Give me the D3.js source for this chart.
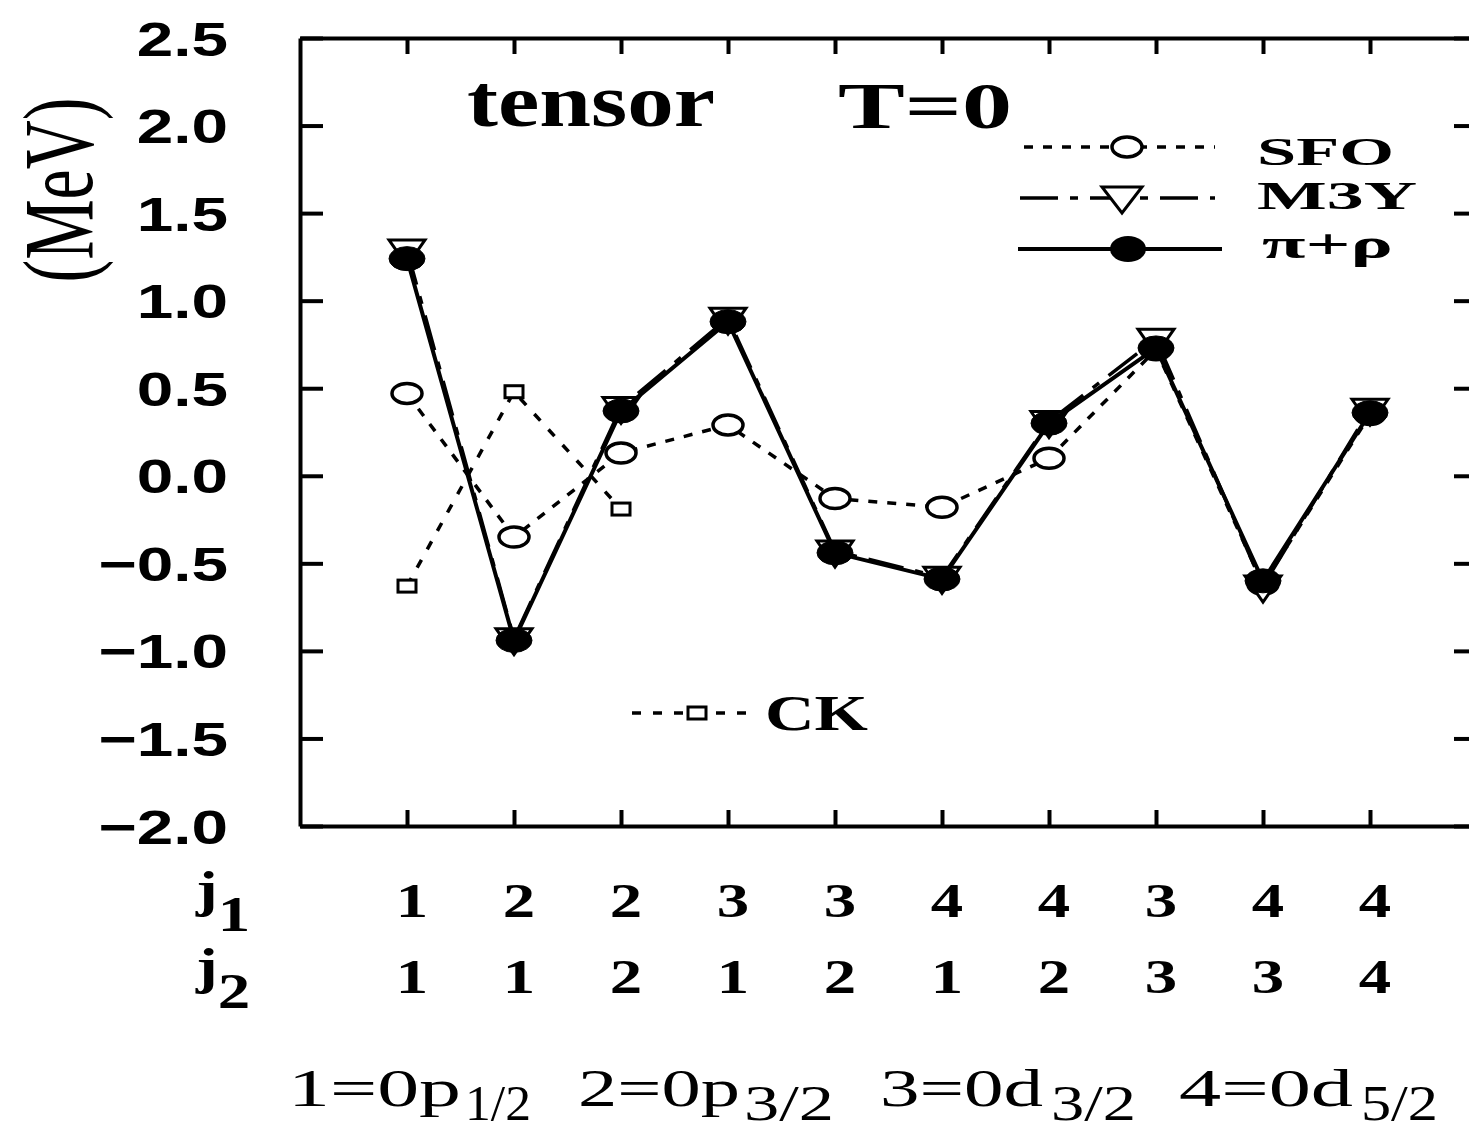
<!DOCTYPE html>
<html>
<head>
<meta charset="utf-8">
<script src="https://cdn.jsdelivr.net/npm/d3@7"></script>
<style>
  body { margin: 0; background: #fff; }
  svg { display: block; }
</style>
</head>
<body>
<svg id="chart" width="1469" height="1132"></svg>
<script>
// orbital pair index (j1, j2) along the horizontal axis
const pairIndex = [1, 2, 3, 4, 5, 6, 7, 8, 9, 10];
const j1Labels = ["1", "2", "2", "3", "3", "4", "4", "3", "4", "4"];
const j2Labels = ["1", "1", "2", "1", "2", "1", "2", "3", "3", "4"];

// tensor T=0 matrix elements (MeV)
const sfoValues   = [0.47, -0.35, 0.13, 0.29, -0.13, -0.18, 0.10, 0.72, -0.62, 0.35];
const m3yValues   = [1.29, -0.93, 0.39, 0.90, -0.43, -0.58, 0.31, 0.78, -0.63, 0.38];
const piRhoValues = [1.24, -0.94, 0.37, 0.88, -0.44, -0.59, 0.30, 0.73, -0.60, 0.36];
const ckIndex     = [1, 2, 3];
const ckValues    = [-0.63, 0.48, -0.19];

const yTickValues = [-2.0, -1.5, -1.0, -0.5, 0.0, 0.5, 1.0, 1.5, 2.0, 2.5];
const orbitalKey = [
  { main: "1=0p", sub: "1/2" },
  { main: "2=0p", sub: "3/2" },
  { main: "3=0d", sub: "3/2" },
  { main: "4=0d", sub: "5/2" }
];

const svg = d3.select("#chart");
const SERIF = "'Liberation Serif', 'Times New Roman', serif";
const SANS = "'Liberation Sans', Arial, sans-serif";

const plot = { left: 300, right: 1477, top: 38, bottom: 826 };
const x = d3.scaleLinear().domain([0, 11]).range([plot.left, plot.right]);
const y = d3.scaleLinear().domain([-2.0, 2.5]).range([plot.bottom, plot.top]);

// ---- frame and ticks (all ticks point inward) ----
function styleAxis(g) {
  g.select(".domain").attr("stroke", "#000").attr("stroke-width", 4);
  g.selectAll(".tick line").attr("stroke", "#000").attr("stroke-width", 4);
}

const leftAxis = svg.append("g")
  .attr("transform", `translate(${plot.left},0)`)
  .call(d3.axisLeft(y).tickValues(yTickValues).tickSizeInner(-23).tickSizeOuter(0)
    .tickFormat(d3.format(".1f")))
  .call(styleAxis);
leftAxis.selectAll(".tick text")
  .attr("x", null).attr("dy", null)
  .attr("transform", "translate(-72,17) scale(1.34,1)")
  .attr("font-family", SANS).attr("font-weight", "bold").attr("font-size", 49)
  .attr("text-anchor", "end").attr("fill", "#000");

svg.append("g")
  .attr("transform", `translate(${plot.right},0)`)
  .call(d3.axisRight(y).tickValues(yTickValues).tickSizeInner(-23).tickSizeOuter(0).tickFormat(""))
  .call(styleAxis);

svg.append("g")
  .attr("transform", `translate(0,${plot.top})`)
  .call(d3.axisTop(x).tickValues(pairIndex).tickSizeInner(-16).tickSizeOuter(0).tickFormat(""))
  .call(styleAxis);

svg.append("g")
  .attr("transform", `translate(0,${plot.bottom})`)
  .call(d3.axisBottom(x).tickValues(pairIndex).tickSizeInner(-16).tickSizeOuter(0).tickFormat(""))
  .call(styleAxis);

// ---- series ----
const line = d3.line().x(d => x(d[0])).y(d => y(d[1]));
const pts = vals => vals.map((v, i) => [pairIndex[i], v]);

const ellipse = (g, data, rx, ry, fill, sw) =>
  g.selectAll(null).data(data).join("ellipse")
    .attr("cx", d => x(d[0])).attr("cy", d => y(d[1]))
    .attr("rx", rx).attr("ry", ry)
    .attr("fill", fill).attr("stroke", "#000").attr("stroke-width", sw);

const triPath = (w, up, down) => `M${-w / 2},${-up}L${w / 2},${-up}L0,${down}Z`;

// SFO: dotted line, open circles
const sfo = svg.append("g");
sfo.append("path").attr("d", line(pts(sfoValues)))
  .attr("fill", "none").attr("stroke", "#000").attr("stroke-width", 3.5)
  .attr("stroke-dasharray", "9,10");
ellipse(sfo, pts(sfoValues), 15, 10, "#fff", 3.5);

// CK: dashed line, open squares
const ckPts = ckValues.map((v, i) => [ckIndex[i], v]);
const ck = svg.append("g");
ck.append("path").attr("d", line(ckPts))
  .attr("fill", "none").attr("stroke", "#000").attr("stroke-width", 3.5)
  .attr("stroke-dasharray", "9,12");
ck.selectAll(null).data(ckPts).join("rect")
  .attr("x", d => x(d[0]) - 9).attr("y", d => y(d[1]) - 6)
  .attr("width", 18).attr("height", 12)
  .attr("fill", "#fff").attr("stroke", "#000").attr("stroke-width", 3);

// M3Y: dash-dot line, open down-triangles
const m3y = svg.append("g");
m3y.append("path").attr("d", line(pts(m3yValues)))
  .attr("fill", "none").attr("stroke", "#000").attr("stroke-width", 3.5)
  .attr("stroke-dasharray", "36,12,8,12");
m3y.selectAll(null).data(pts(m3yValues)).join("path")
  .attr("transform", d => `translate(${x(d[0])},${y(d[1])})`)
  .attr("d", triPath(36, 10, 16))
  .attr("fill", "#fff").attr("stroke", "#000").attr("stroke-width", 3);

// pi+rho: solid line, filled circles
const pr = svg.append("g");
pr.append("path").attr("d", line(pts(piRhoValues)))
  .attr("fill", "none").attr("stroke", "#000").attr("stroke-width", 4);
ellipse(pr, pts(piRhoValues), 18, 12, "#000", 1);

// ---- legend ----
const legend = svg.append("g");
function legendLine(x0, x1, yy, dash, sw) {
  legend.append("line").attr("x1", x0).attr("x2", x1).attr("y1", yy).attr("y2", yy)
    .attr("stroke", "#000").attr("stroke-width", sw)
    .attr("stroke-dasharray", dash);
}
function legendText(txt, tx, ty, size, len) {
  legend.append("text").attr("x", tx).attr("y", ty)
    .attr("font-family", SERIF).attr("font-weight", "bold").attr("font-size", size)
    .attr("textLength", len).attr("lengthAdjust", "spacingAndGlyphs")
    .text(txt);
}
// SFO
legendLine(1024, 1215, 147, "9,10", 3.5);
legend.append("ellipse").attr("cx", 1127).attr("cy", 147).attr("rx", 15).attr("ry", 10)
  .attr("fill", "#fff").attr("stroke", "#000").attr("stroke-width", 3.5);
legendText("SFO", 1257, 165, 40, 137);
// M3Y
legendLine(1020, 1215, 198, "38,12,8,12", 3.5);
legend.append("path").attr("transform", "translate(1122,197)").attr("d", triPath(40, 10, 16))
  .attr("fill", "#fff").attr("stroke", "#000").attr("stroke-width", 3);
legendText("M3Y", 1257, 209, 40, 160);
// pi+rho
legendLine(1018, 1222, 249, null, 4);
legend.append("ellipse").attr("cx", 1128).attr("cy", 249).attr("rx", 18).attr("ry", 13)
  .attr("fill", "#000");
legendText("\u03C0+\u03C1", 1262, 258, 42, 131);
// CK
legendLine(632, 746, 713, "9,12", 3.5);
legend.append("rect").attr("x", 688).attr("y", 707).attr("width", 18).attr("height", 12)
  .attr("fill", "#fff").attr("stroke", "#000").attr("stroke-width", 3);
legendText("CK", 765, 730, 50, 103);

// ---- titles ----
svg.append("text").attr("x", 467).attr("y", 126)
  .attr("font-family", SERIF).attr("font-weight", "bold").attr("font-size", 74)
  .attr("textLength", 248).attr("lengthAdjust", "spacingAndGlyphs").text("tensor");
svg.append("text").attr("x", 838).attr("y", 128)
  .attr("font-family", SERIF).attr("font-weight", "bold").attr("font-size", 66)
  .attr("textLength", 174).attr("lengthAdjust", "spacingAndGlyphs").text("T=0");

// y-axis unit label
svg.append("text")
  .attr("transform", "translate(92,190) rotate(-90)")
  .attr("text-anchor", "middle")
  .attr("font-family", SERIF).attr("font-size", 100)
  .attr("textLength", 185).attr("lengthAdjust", "spacingAndGlyphs")
  .text("(MeV)");

// ---- j1 / j2 rows under the axis ----
function jRow(labels, baseline) {
  svg.append("g").selectAll(null).data(labels).join("text")
    .attr("transform", (d, i) => `translate(${x(pairIndex[i]) + 5},${baseline}) scale(1.35,1)`)
    .attr("text-anchor", "middle")
    .attr("font-family", SERIF).attr("font-weight", "bold").attr("font-size", 48)
    .text(d => d);
}
jRow(j1Labels, 917);
jRow(j2Labels, 993);

function jName(sub, baseline) {
  const t = svg.append("text")
    .attr("transform", `translate(196,${baseline}) scale(1.3,1)`)
    .attr("font-family", SERIF).attr("font-weight", "bold").attr("font-size", 50);
  t.append("tspan").text("j");
  t.append("tspan").attr("dy", 25).text(sub);
}
jName("1", 906);
jName("2", 983);

// ---- orbital key: "n=0l" followed by the j subscript ----
const keyLayout = [
  { x: 288, w: 173, sx: 465, sw: 66 },
  { x: 578, w: 162, sx: 744, sw: 90 },
  { x: 880, w: 163, sx: 1051, sw: 85 },
  { x: 1179, w: 174, sx: 1361, sw: 77 }
];
orbitalKey.forEach((k, i) => {
  const L = keyLayout[i];
  svg.append("text").attr("x", L.x).attr("y", 1106)
    .attr("font-family", SERIF).attr("font-size", 53)
    .attr("textLength", L.w).attr("lengthAdjust", "spacingAndGlyphs")
    .text(k.main);
  svg.append("text").attr("x", L.sx).attr("y", 1120)
    .attr("font-family", SERIF).attr("font-size", 50)
    .attr("textLength", L.sw).attr("lengthAdjust", "spacingAndGlyphs")
    .text(k.sub);
});
</script>
</body>
</html>
